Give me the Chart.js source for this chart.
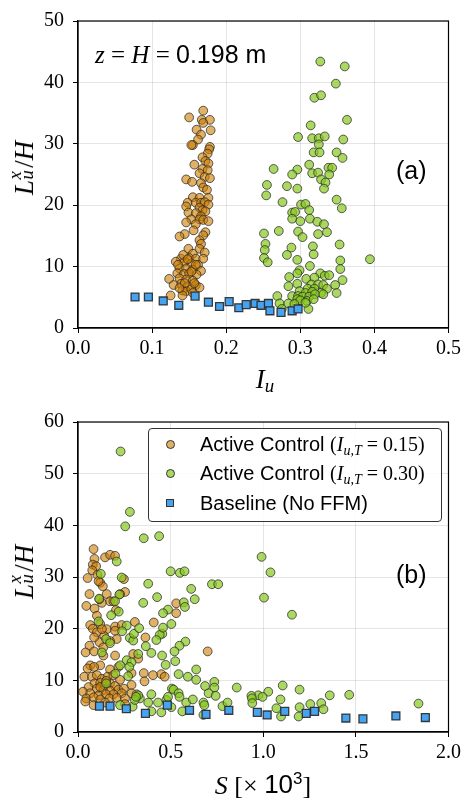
<!DOCTYPE html>
<html><head><meta charset="utf-8">
<script src="https://cdn.jsdelivr.net/npm/chart.js@4.4.1/dist/chart.umd.min.js"></script>
<style>
html,body{margin:0;padding:0;background:#fff;}
#wrap{position:relative;width:465px;height:802px;overflow:hidden;background:#fff;}
canvas{position:absolute;left:0;}
.t{position:absolute;white-space:nowrap;color:#000;line-height:1;}
.m{font-family:"Liberation Serif","DejaVu Serif",serif;}
.s{font-family:"Liberation Sans",Arial,sans-serif;}
.ss{display:inline-block;position:relative;width:0.45em;height:1em;}
.ss .sp{position:absolute;left:0.02em;top:-0.02em;font-size:0.7em;font-style:italic;}
.ss .sb{position:absolute;left:0.02em;top:0.62em;font-size:0.7em;font-style:italic;}
.rot{transform:translate(-50%,-50%) rotate(-90deg);}
.ctr{transform:translate(-50%,-50%);}
#legend{position:absolute;left:148px;top:428px;width:292px;height:92px;border:1px solid #333;border-radius:4px;background:rgba(255,255,255,0.85);}
.lrow{position:absolute;left:0;height:24px;font-size:20px;}
.mk{position:absolute;box-sizing:border-box;border:1px solid #333;}
.lt{position:absolute;left:51px;top:0;white-space:nowrap;line-height:24px;}
</style></head>
<body>
<div id="wrap">
  <canvas id="ca" width="465" height="401" style="top:0"></canvas>
  <canvas id="cb" width="465" height="401" style="top:401px"></canvas>

  <div class="t m rot" style="left:22px;top:168px;font-size:27px;"><i>L</i><span class="ss"><span class="sp">x</span><span class="sb">u</span></span>/<i>H</i></div>
  <div class="t m ctr" style="left:265px;top:381px;font-size:27px;"><i>I</i><sub style="font-size:0.7em;vertical-align:-0.25em"><i>u</i></sub></div>
  <div class="t" style="left:95px;top:42px;font-size:25px;"><span class="m"><i>z</i> = <i>H</i> = </span><span class="s">0.198 m</span></div>
  <div class="t s" style="left:396px;top:158px;font-size:25px;">(a)</div>

  <div class="t m rot" style="left:22px;top:572px;font-size:27px;"><i>L</i><span class="ss"><span class="sp">x</span><span class="sb">u</span></span>/<i>H</i></div>
  <div class="t ctr" style="left:263px;top:785px;font-size:26px;"><span class="m"><i>S</i> [× </span><span class="s">10<sup style="font-size:0.65em;vertical-align:0.55em">3</sup></span><span class="m">]</span></div>
  <div class="t s" style="left:396px;top:562px;font-size:25px;">(b)</div>

  <div id="legend">
    <div class="lrow" style="top:3px;width:290px;">
      <div class="mk" style="left:17px;top:8px;width:9px;height:9px;border-radius:50%;background:rgba(205,125,0,0.6);"></div>
      <div class="lt"><span class="s">Active Control </span><span class="m">(<i>I</i><sub style="font-size:0.7em;vertical-align:-0.25em"><i>u,T</i></sub> = 0.15)</span></div>
    </div>
    <div class="lrow" style="top:32px;width:290px;">
      <div class="mk" style="left:17px;top:8px;width:9px;height:9px;border-radius:50%;background:rgba(135,200,30,0.7);"></div>
      <div class="lt"><span class="s">Active Control </span><span class="m">(<i>I</i><sub style="font-size:0.7em;vertical-align:-0.25em"><i>u,T</i></sub> = 0.30)</span></div>
    </div>
    <div class="lrow" style="top:62px;width:290px;">
      <div class="mk" style="left:17px;top:8px;width:8px;height:8px;background:rgb(70,163,240);"></div>
      <div class="lt s">Baseline (No FFM)</div>
    </div>
  </div>
</div>
<script>
// ---------- Panel (a): L/H versus I_u ----------
const iuBrownA = [0.169,0.150,0.167,0.178,0.169,0.160,0.179,0.166,0.162,0.155,
0.153,0.178,0.177,0.175,0.168,0.172,0.157,0.176,0.168,0.175,
0.164,0.171,0.178,0.146,0.154,0.166,0.169,0.174,0.155,0.164,
0.176,0.148,0.159,0.166,0.171,0.176,0.146,0.164,0.168,0.172,
0.149,0.159,0.166,0.153,0.164,0.169,0.176,0.146,0.159,0.156,
0.172,0.144,0.137,0.169,0.164,0.166,0.149,0.164,0.155,0.171,
0.139,0.150,0.159,0.169,0.132,0.144,0.153,0.162,0.137,0.146,
0.155,0.166,0.134,0.143,0.150,0.160,0.137,0.123,0.146,0.155,
0.139,0.129,0.148,0.159,0.164,0.141,0.146,0.153,0.125,0.141,
0.155,0.135,0.142,0.148,0.153,0.159,0.144,0.157,0.137];
const lhBrownA = [35.4,34.3,33.9,33.9,33.4,32.3,32.2,31.5,30.7,29.8,
29.8,29.5,29.1,28.4,27.8,27.2,26.6,26.8,25.9,25.7,
25.2,24.6,24.4,24.2,23.8,23.6,22.9,22.5,21.3,21.2,
21.2,20.4,20.4,20.4,20.5,20.1,19.8,19.6,19.2,19.0,
18.8,18.7,18.2,17.7,17.7,17.6,17.4,17.2,16.9,15.9,
15.6,15.3,14.9,15.1,14.3,13.7,12.9,12.9,12.1,12.3,
11.3,11.4,11.3,11.3,10.8,10.8,10.5,10.3,9.7,9.7,
9.5,9.3,8.9,8.8,8.9,8.7,8.1,8.0,7.9,7.7,
7.2,7.0,6.8,7.0,6.6,6.1,6.0,6.3,5.3,5.3,
5.7,10.3,11.9,11.2,9.2,10.3,7.3,7.3,6.5];

const iuGreenA = [0.327,0.360,0.348,0.319,0.328,0.363,0.314,0.297,0.316,0.325,
0.333,0.358,0.325,0.318,0.326,0.349,0.357,0.312,0.338,0.343,
0.264,0.296,0.289,0.316,0.324,0.339,0.328,0.334,0.255,0.282,
0.296,0.332,0.254,0.349,0.276,0.301,0.307,0.356,0.312,0.289,
0.293,0.313,0.289,0.300,0.323,0.332,0.271,0.297,0.251,0.324,
0.336,0.303,0.253,0.353,0.317,0.288,0.252,0.318,0.282,0.251,
0.394,0.296,0.354,0.256,0.313,0.354,0.299,0.296,0.327,0.333,
0.339,0.285,0.308,0.319,0.357,0.296,0.315,0.324,0.331,0.347,
0.284,0.310,0.319,0.336,0.299,0.307,0.316,0.328,0.349,0.269,
0.289,0.297,0.303,0.312,0.320,0.331,0.296,0.300,0.309,0.318,
0.272,0.284,0.292,0.311,0.275,0.307];
const lhGreenA = [43.4,42.6,39.8,37.5,37.9,33.9,33.0,31.1,30.9,30.9,
31.2,30.7,29.9,28.6,28.6,28.6,27.7,26.6,26.1,26.1,
25.9,25.8,25.0,25.2,25.3,25.0,24.2,23.7,23.3,23.1,
22.7,22.7,21.6,20.9,20.5,20.1,20.2,19.5,19.2,18.8,
18.9,17.8,17.8,17.4,17.3,16.9,15.8,15.7,15.4,15.3,
15.6,14.8,13.7,13.6,13.3,13.1,12.7,12.0,11.9,11.4,
11.2,11.1,11.0,10.7,10.1,9.6,9.4,8.9,8.9,8.5,
8.6,8.3,8.0,8.2,7.8,7.2,7.1,7.1,7.0,7.0,
6.8,6.4,6.4,6.4,6.0,5.7,5.9,5.7,5.7,5.2,
5.2,5.2,5.1,5.1,5.5,5.5,4.7,4.5,4.4,4.7,
4.0,4.0,3.9,3.1,3.1,4.1];

const iuBaseA = [0.077,0.095,0.115,0.136,0.158,0.176,0.191,0.204,0.217,0.227,0.239,0.247,0.257,0.259,0.274,0.289,0.297];
const lhBaseA = [5.05,5.05,4.4,3.7,5.2,4.2,3.5,4.3,3.3,3.8,4.0,3.7,4.0,2.8,2.55,2.8,3.1];

// ---------- Panel (b): L/H versus S [x10^3] ----------
const sBrownB = [0.084,0.089,0.080,0.098,0.077,0.146,0.173,0.200,0.052,0.105,
0.120,0.134,0.248,0.111,0.062,0.155,0.254,0.227,0.045,0.089,
0.129,0.173,0.116,0.191,0.205,0.530,0.530,0.307,0.409,0.066,
0.080,0.120,0.155,0.200,0.236,0.102,0.141,0.209,0.364,0.116,
0.173,0.062,0.041,0.087,0.137,0.200,0.700,0.298,0.325,0.066,
0.052,0.120,0.173,0.218,0.289,0.355,0.405,0.450,0.468,0.034,
0.075,0.102,0.129,0.159,0.191,0.227,0.359,0.089,0.120,0.146,
0.173,0.200,0.289,0.057,0.102,0.137,0.173,0.218,0.248,0.027,
0.066,0.111,0.152,0.191,0.236,0.289,0.316,0.045,0.084,0.120,
0.170,0.209,0.254,0.039,0.084,0.146,0.254,0.120,0.152,0.087,
0.137,0.087,0.129,0.102,0.200];
const lhBrownB = [35.4,33.5,32.4,32.1,31.3,33.8,34.3,34.1,29.8,30.4,
28.9,28.2,29.6,29.2,26.7,26.7,27.1,26.7,24.4,23.9,
25.0,25.3,25.7,25.3,23.6,24.9,23.0,21.3,21.2,20.7,
20.0,20.9,19.9,20.4,20.7,19.3,18.6,18.0,18.3,17.4,
17.6,16.7,15.4,15.6,16.4,14.8,15.6,15.1,14.2,12.9,
12.3,12.9,12.1,12.6,11.4,11.4,11.0,11.2,10.7,10.7,
10.7,11.0,10.3,10.7,11.0,10.1,9.8,9.4,9.5,9.1,
9.4,8.9,9.1,8.7,8.4,8.1,8.0,8.2,8.4,7.8,
7.5,7.1,7.3,7.3,7.5,7.5,7.3,6.5,6.7,6.3,
6.5,6.6,6.5,5.9,5.2,5.7,5.4,8.7,9.9,12.6,
14.8,18.3,19.9,22.5,19.6];

const sGreenB = [0.230,0.280,0.255,0.438,0.355,0.991,1.039,0.209,0.123,0.500,
0.550,0.575,0.236,0.379,0.723,0.757,0.611,0.223,0.427,1.004,
0.630,0.114,0.200,0.352,0.571,0.577,0.486,0.459,0.220,1.155,
0.179,0.455,0.441,0.459,0.504,0.263,0.238,0.111,0.152,0.173,
0.280,0.298,0.302,0.330,0.423,0.580,0.548,0.366,0.521,0.396,
0.325,0.454,0.129,0.263,0.289,0.525,0.473,0.638,0.227,0.277,
0.543,0.593,0.638,0.736,0.271,0.202,0.152,0.736,0.686,0.857,
1.105,1.196,0.507,0.516,0.543,1.027,0.973,0.936,0.996,0.705,
0.743,1.359,1.464,0.548,0.939,1.093,1.838,0.396,0.334,0.325,
0.379,0.432,0.477,0.486,0.584,0.620,0.677,0.682,0.780,0.807,
0.941,1.071,1.096,1.191,1.196,1.254,1.313,1.325,0.504,0.563,
0.677,0.396,0.450,0.295,0.227,0.307,0.313];
const lhGreenB = [54.3,42.6,39.8,37.9,37.5,33.9,30.9,33.0,30.6,31.1,
30.8,31.1,29.9,28.7,28.6,28.6,27.7,26.6,26.1,26.0,
25.7,25.8,25.3,25.0,25.1,24.2,23.7,23.0,23.3,22.7,
22.6,19.0,18.8,20.2,20.9,20.6,19.5,21.4,18.0,17.2,
18.2,17.7,19.0,20.1,17.8,17.5,16.7,16.6,15.6,15.3,
15.1,14.8,15.4,13.9,13.5,13.7,13.0,12.1,12.9,12.6,
11.2,10.7,10.1,9.7,10.8,11.3,9.4,8.6,8.9,8.6,
9.0,8.2,8.4,8.2,7.5,7.8,7.1,7.0,6.8,7.5,
7.0,7.1,7.2,6.8,6.5,6.3,5.5,7.3,6.5,7.1,
5.7,5.7,6.2,6.8,5.7,6.3,5.7,5.2,5.0,5.7,
5.6,4.6,3.0,3.0,4.8,5.4,5.6,4.4,4.8,4.0,
3.3,4.0,3.8,4.9,5.2,6.2,6.8];

const sBaseB = [0.116,0.173,0.261,0.364,0.482,0.602,0.691,0.814,0.968,1.021,1.116,1.232,1.277,1.446,1.538,1.716,1.875];
const lhBaseB = [5.0,5.0,4.5,3.6,5.2,4.2,3.4,4.2,3.8,3.3,4.0,3.6,4.0,2.7,2.55,3.1,2.8];

const seriesNames = ['Active Control (I_u,T = 0.15)','Active Control (I_u,T = 0.30)','Baseline (No FFM)'];
const xTicksA = [0,0.1,0.2,0.3,0.4,0.5];
const xTicksB = [0,0.5,1.0,1.5,2.0];

// ---------- drawing ----------
const pts = (xs, ys) => xs.map((x, i) => ({x: x, y: ys[i]}));
const BROWN = 'rgba(205,125,0,0.6)';
const GREEN = 'rgba(135,200,30,0.7)';
const BLUE = 'rgb(70,163,240)';
const EDGE = 'rgba(40,40,40,0.75)';

function datasets(bx, by, gx, gy, sx, sy) {
  return [
    {label: seriesNames[2], data: pts(sx, sy), pointStyle: 'rect', pointRadius: 5.6, backgroundColor: BLUE, borderColor: 'rgba(40,40,40,0.9)', borderWidth: 1.3, showLine: false, order: 1},
    {label: seriesNames[1], data: pts(gx, gy), pointRadius: 4.4, backgroundColor: GREEN, borderColor: EDGE, borderWidth: 1, showLine: false, order: 2},
    {label: seriesNames[0], data: pts(bx, by), pointRadius: 4.4, backgroundColor: BROWN, borderColor: EDGE, borderWidth: 1, showLine: false, order: 3}
  ];
}

const frame = {
  id: 'frame',
  afterDatasetsDraw(chart) {
    const a = chart.chartArea, c = chart.ctx;
    c.save();
    c.strokeStyle = '#000';
    c.lineWidth = 1.2;
    c.strokeRect(a.left, a.top, a.right - a.left, a.bottom - a.top);
    c.restore();
  }
};

function opts(xmax, xticks, ymax, padTop, xh) {
  const tickFont = {family: 'Liberation Serif', size: 20};
  return {
    responsive: false, animation: false, events: [],
    layout: {padding: {left: 0, right: 14, top: padTop, bottom: 0}},
    plugins: {legend: {display: false}, tooltip: {enabled: false}},
    scales: {
      x: {
        type: 'linear', min: 0, max: xmax,
        afterBuildTicks: s => { s.ticks = xticks.map(v => ({value: v})); },
        ticks: {callback: v => Number(v).toFixed(1), font: tickFont, color: '#000', padding: 4, maxRotation: 0, autoSkip: false},
        grid: {color: 'rgba(0,0,0,0.1)', tickColor: '#000', tickLength: 5, lineWidth: 1},
        border: {color: '#000', width: 1.2},
        afterFit: s => { s.height = xh; }
      },
      y: {
        type: 'linear', min: 0, max: ymax,
        ticks: {stepSize: 10, font: tickFont, color: '#000', padding: 9},
        grid: {color: 'rgba(0,0,0,0.1)', tickColor: '#000', tickLength: 5, lineWidth: 1},
        border: {color: '#000', width: 1.2},
        afterFit: s => { s.width = 78; }
      }
    }
  };
}

new Chart(document.getElementById('ca'), {
  type: 'scatter',
  data: {datasets: datasets(iuBrownA, lhBrownA, iuGreenA, lhGreenA, iuBaseA, lhBaseA)},
  options: opts(0.5, xTicksA, 50, 14, 73),
  plugins: [frame]
});
new Chart(document.getElementById('cb'), {
  type: 'scatter',
  data: {datasets: datasets(sBrownB, lhBrownB, sGreenB, lhGreenB, sBaseB, lhBaseB)},
  options: opts(2.0, xTicksB, 60, 18, 70),
  plugins: [frame]
});
</script>
</body></html>
